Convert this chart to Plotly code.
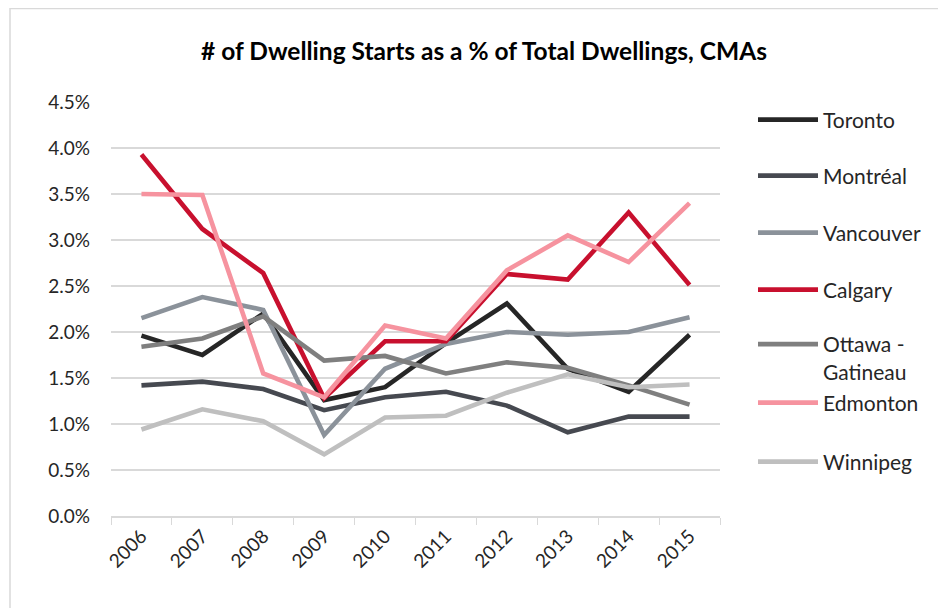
import plotly.graph_objects as go

years = ["2006", "2007", "2008", "2009", "2010", "2011", "2012", "2013", "2014", "2015"]

toronto = [1.96, 1.75, 2.20, 1.26, 1.40, 1.88, 2.31, 1.60, 1.35, 1.97]
montreal = [1.42, 1.46, 1.38, 1.15, 1.29, 1.35, 1.20, 0.91, 1.08, 1.08]
vancouver = [2.15, 2.38, 2.24, 0.88, 1.60, 1.87, 2.00, 1.97, 2.00, 2.16]
calgary = [3.93, 3.12, 2.64, 1.28, 1.90, 1.90, 2.63, 2.57, 3.30, 2.51]
ottawa = [1.84, 1.93, 2.17, 1.69, 1.74, 1.55, 1.67, 1.61, 1.42, 1.21]
edmonton = [3.50, 3.49, 1.55, 1.29, 2.07, 1.93, 2.67, 3.05, 2.76, 3.40]
winnipeg = [0.94, 1.16, 1.03, 0.67, 1.07, 1.09, 1.34, 1.54, 1.40, 1.43]

series_names = ["Toronto", "Montréal", "Vancouver", "Calgary", "Ottawa -<br>Gatineau", "Edmonton", "Winnipeg"]
series_values = [toronto, montreal, vancouver, calgary, ottawa, edmonton, winnipeg]
colors = ["#262626", "#464950", "#8b929a", "#c8102e", "#7f7f7f", "#f6939f", "#bfbfbf"]
ytick_vals = [0, 0.5, 1.0, 1.5, 2.0, 2.5, 3.0, 3.5, 4.0, 4.5]
ytick_text = ["0.0%", "0.5%", "1.0%", "1.5%", "2.0%", "2.5%", "3.0%", "3.5%", "4.0%", "4.5%"]

# page offset (the html body adds an 8px margin)
OFF = 8
W, H = 946, 608
ml, mt = 111 - OFF, 102 - OFF
pw, ph = 609, 414
mr, mb = W - ml - pw, H - mt - ph

# legend item vertical centres (page pixels)
legend_px = [120, 176, 233, 290, 358, 403, 462]

FONT = "Lato"


def px_x(p):
    return (p - OFF - ml) / pw


def px_y(p):
    return (H - mb - (p - OFF)) / ph


fig = go.Figure()
for i, (name, vals, col) in enumerate(zip(series_names, series_values, colors)):
    lg = "legend" if i == 0 else f"legend{i+1}"
    fig.add_trace(go.Scatter(
        x=years, y=vals, mode="lines", name=name,
        line=dict(color=col, width=4.6),
        legend=lg,
    ))

layout_legends = {}
for i, py in enumerate(legend_px):
    key = "legend" if i == 0 else f"legend{i+1}"
    layout_legends[key] = dict(
        x=px_x(753), xanchor="left",
        y=px_y(py), yanchor="middle",
        font=dict(family=FONT, size=21, color="#262626"),
        bgcolor="rgba(0,0,0,0)", borderwidth=0,
        itemwidth=60, valign="top",
        itemclick=False, itemdoubleclick=False,
    )

fig.update_layout(
    width=W, height=H,
    margin=dict(l=ml, r=mr, t=mt, b=mb, autoexpand=False),
    paper_bgcolor="white", plot_bgcolor="white",
    title=dict(text="<b># of Dwelling Starts as a % of Total Dwellings, CMAs</b>",
               x=(484 - OFF) / W, xanchor="center", y=1 - (51 - OFF) / H, yanchor="middle",
               font=dict(family=FONT, size=24.5, color="#000000")),
    xaxis=dict(
        type="category", tickangle=-45, tickson="boundaries",
        ticks="outside", ticklen=7, tickcolor="#d9d9d9",
        showline=True, linecolor="#d9d9d9", linewidth=1.5,
        showgrid=False, zeroline=False, automargin=False,
        tickfont=dict(family=FONT, size=19, color="#262626"),
        range=[-0.5, 9.5],
    ),
    yaxis=dict(
        range=[0, 4.5], tickvals=ytick_vals, ticktext=ytick_text,
        showgrid=True, gridcolor="#d9d9d9", gridwidth=1.5,
        zeroline=False, showline=False, ticks="", automargin=False,
        tickfont=dict(family=FONT, size=19, color="#262626"),
        ticklabelstandoff=20,
    ),
    showlegend=True,
    shapes=[dict(type="rect", xref="paper", yref="paper",
                 x0=px_x(10), x1=px_x(970),
                 y0=px_y(640), y1=px_y(8.5),
                 line=dict(color="#d9d9d9", width=1.5), layer="below")],
    **layout_legends,
)

fig.write_html("out.html")
